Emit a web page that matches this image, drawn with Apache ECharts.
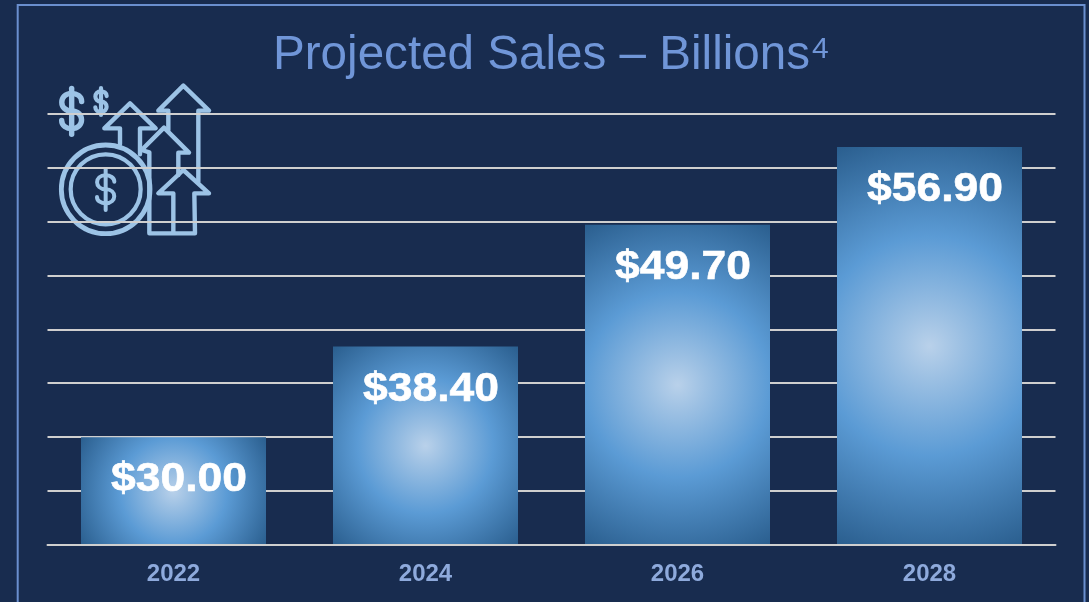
<!DOCTYPE html>
<html><head><meta charset="utf-8">
<style>html,body{margin:0;padding:0;background:#182c4f}#c{width:1089px;height:602px}</style>
<script src="https://cdn.jsdelivr.net/npm/echarts@6/dist/echarts.min.js"></script>
</head><body><div id="c"></div>
<script>
const years = ['2022','2024','2026','2028'];
const sales = [30.0,38.4,49.7,56.9];
const axisMin = 20, axisMax = 60, axisStep = 5;

const BG='#182c4f', FRAME='#6a8fcf', TITLE='#7096d8', TICK='#8eaadc', GRID='#cfcfcf', ICON='#9cc3e6';
const BAR_W=185, PLOT_H=431;
function barFill(v){
  const h=(v-axisMin)/(axisMax-axisMin)*PLOT_H;
  const r=Math.sqrt(BAR_W*BAR_W+h*h)/2/Math.min(BAR_W,h);
  return {type:'radial',x:0.5,y:0.5,r:r,colorStops:[
    {offset:0,color:'#b9d1ea'},{offset:0.15,color:'#9cc0e3'},{offset:0.5,color:'#5b9bd5'},{offset:1,color:'#2a5e8e'}]};
}
// icon helpers: coordinates are given in a 3x icon space
const zx=x=>40+x/3, zy=y=>75+y/3;
const iconStyle=w=>({stroke:ICON,fill:null,lineWidth:w,lineJoin:'round',lineCap:'round'});
function poly(pts,w){return {type:'polyline',z:-1,silent:true,shape:{points:pts.map(p=>[zx(p[0]),zy(p[1])])},style:iconStyle(w||4.4)};}
function ring(cx,cy,r,w){return {type:'circle',z:-1,silent:true,shape:{cx:zx(cx),cy:zy(cy),r:r/3},style:iconStyle(w||4.4)};}
function bez(a,b,c,d,w){return {type:'bezierCurve',z:-1,silent:true,shape:{x1:a[0],y1:a[1],cpx1:b[0],cpy1:b[1],cpx2:c[0],cpy2:c[1],x2:d[0],y2:d[1]},style:iconStyle(w)};}
function dollar(cx,cy,w,h,top,bot,lw){
  const X=zx(cx),Y=zy(cy),W=w/3,H=h/3,k=W*0.66;
  return [
    bez([X+W/2,Y-H*0.27],[X+W/2,Y-H*0.42],[X+W*0.25,Y-H/2],[X,Y-H/2],lw),
    bez([X,Y-H/2],[X-k,Y-H/2],[X-k,Y],[X,Y],lw),
    bez([X,Y],[X+k,Y],[X+k,Y+H/2],[X,Y+H/2],lw),
    bez([X,Y+H/2],[X-W*0.25,Y+H/2],[X-W/2,Y+H*0.42],[X-W/2,Y+H*0.27],lw),
    {type:'line',z:-1,silent:true,shape:{x1:X,y1:zy(top),x2:X,y2:zy(bot)},style:iconStyle(lw)}
  ];
}
const iconParts=[
  ring(197,343,133,4.8),ring(197,343,105,4.2),
  ...dollar(197,343,52,84,282,405,4),
  ...dollar(95,108,60,106,40,178,5.4),
  ...dollar(183,80,34,62,39,120,4.2),
  poly([[385,165],[385,107],[355,107],[430,32],[507,107],[475,107],[475,320]]),
  poly([[240,208],[240,160],[193,160],[270,85],[347,160],[300,160],[300,238]]),
  poly([[305,225],[372,158],[447,233],[415,233],[415,300]]),
  poly([[305,225],[328,232],[328,475],[465,475],[463,355],[507,355],[430,285],[355,355],[400,355],[400,475]])
];

const chart=echarts.init(document.getElementById('c'),null,{renderer:'canvas'});
chart.setOption({
  backgroundColor:BG,
  animation:false,
  title:{
    text:'{m|Projected Sales – Billions}{s|4}',
    left:268, top:22,
    textStyle:{rich:{
      m:{fontFamily:'Liberation Sans',fontSize:47.6,color:TITLE,fontWeight:'normal',lineHeight:58},
      s:{fontFamily:'Liberation Sans',fontSize:30,color:TITLE,fontWeight:'normal',verticalAlign:'top',lineHeight:42,padding:[8,0,0,2]}
    }}
  },
  grid:{left:47.5,right:33.5,top:113.6,bottom:57,containLabel:false},
  xAxis:{type:'category',data:years,z:3,
    axisLine:{show:true,onZero:false,lineStyle:{color:GRID,width:2}},
    axisTick:{show:false},
    axisLabel:{color:TICK,fontFamily:'Liberation Sans',fontWeight:'bold',fontSize:24,margin:17}},
  yAxis:{type:'value',min:axisMin,max:axisMax,interval:axisStep,
    axisLine:{show:false},axisTick:{show:false},axisLabel:{show:false},
    splitLine:{show:true,lineStyle:{color:GRID,width:2}}},
  graphic:{elements:[
    {type:'rect',z:-2,silent:true,shape:{x:17.7,y:5,width:1066.8,height:620},style:{fill:null,stroke:FRAME,lineWidth:2}},
    ...iconParts
  ]},
  series:[
    {type:'bar',barWidth:BAR_W,silent:true,
     data:sales.map(v=>({value:v,itemStyle:{color:barFill(v)}}))},
    {type:'custom',silent:true,z:5,clip:false,
     data:sales.map((v,i)=>[i,v]),
     encode:{x:0,y:1},
     renderItem:(params,api)=>{
       const p=api.coord([api.value(0),api.value(1)]);
       return {type:'text',x:p[0]+5.5,y:p[1]+43,scaleX:1.11,
         style:{text:'$'+api.value(1).toFixed(2),fill:'#ffffff',stroke:'#ffffff',lineWidth:0.6,
           font:'bold 40px "Liberation Sans"',align:'center',verticalAlign:'middle'}};
     }}
  ]
});
</script></body></html>
